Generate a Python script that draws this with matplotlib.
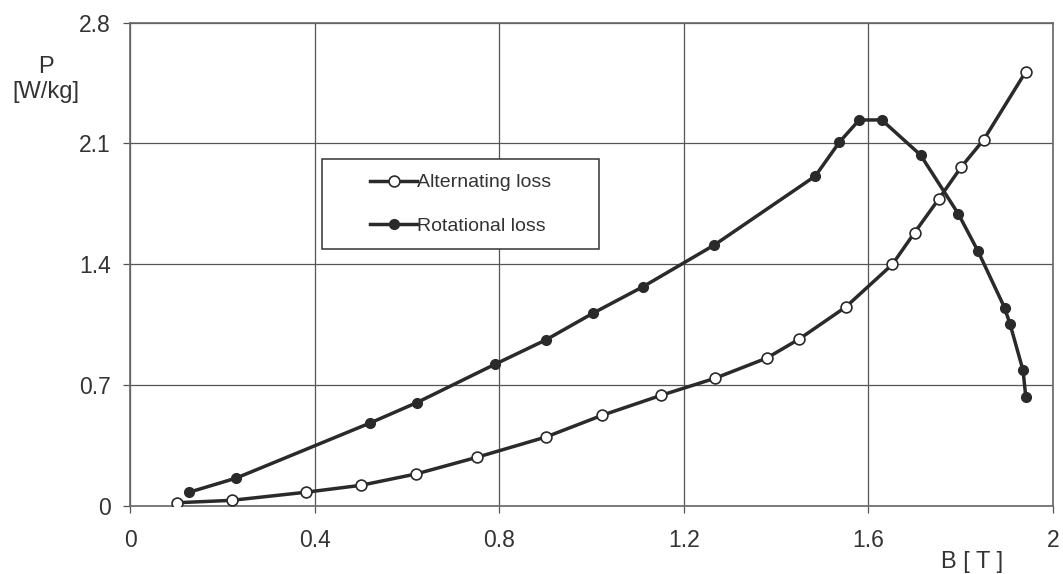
import matplotlib
matplotlib.use("Agg")
import matplotlib.pyplot as plt
from matplotlib.patches import Rectangle

plt.rcParams['font.family'] = ['Liberation Sans', 'DejaVu Sans']

# Flux density B [T] and loss P [W/kg]
b_alt = [0.101, 0.220, 0.381, 0.500, 0.620, 0.751, 0.901, 1.023, 1.151, 1.267,
         1.380, 1.450, 1.551, 1.652, 1.700, 1.752, 1.801, 1.850, 1.941]
p_alt = [0.017, 0.031, 0.078, 0.118, 0.184, 0.280, 0.398, 0.524, 0.640, 0.738,
         0.856, 0.966, 1.152, 1.399, 1.583, 1.776, 1.963, 2.122, 2.516]

b_rot = [0.128, 0.229, 0.519, 0.621, 0.791, 0.901, 1.004, 1.112, 1.266, 1.485,
         1.537, 1.580, 1.629, 1.713, 1.795, 1.837, 1.895, 1.907, 1.935, 1.941]
p_rot = [0.078, 0.159, 0.478, 0.597, 0.820, 0.961, 1.117, 1.270, 1.511, 1.911,
         2.107, 2.236, 2.236, 2.033, 1.691, 1.478, 1.148, 1.052, 0.785, 0.632]

x_ticks = [0, 0.4, 0.8, 1.2, 1.6, 2]
x_labels = ["0", "0.4", "0.8", "1.2", "1.6", "2"]
y_ticks = [0, 0.7, 1.4, 2.1, 2.8]
y_labels = ["0", "0.7", "1.4", "2.1", "2.8"]

line_col = "#2a2a2a"
grid_col = "#555555"
text_col = "#333333"

fig = plt.figure(figsize=(10.63, 5.74), dpi=100)
ax = fig.add_axes([0.1223, 0.119, 0.8683, 0.8415])

ax.plot(b_alt, p_alt, color=line_col, lw=2.5, marker="o", ms=7.8,
        mfc="white", mec=line_col, mew=1.2, label="Alternating loss", zorder=3)
ax.plot(b_rot, p_rot, color=line_col, lw=2.5, marker="o", ms=7.0,
        mfc=line_col, mec=line_col, label="Rotational loss", zorder=3)

ax.set_xlim(0, 2)
ax.set_ylim(0, 2.8)
ax.set_xticks(x_ticks)
ax.set_xticklabels(x_labels)
ax.set_yticks(y_ticks)
ax.set_yticklabels(y_labels)
ax.grid(True, color=grid_col, lw=0.9)
ax.set_axisbelow(True)
for s in ax.spines.values():
    s.set_color("#666666")
    s.set_linewidth(1.2)
ax.tick_params(axis="both", direction="out", length=5, width=0.9,
               color=grid_col, labelsize=16.5, labelcolor=text_col)
ax.tick_params(axis="x", pad=12)
ax.tick_params(axis="y", pad=9)
ax.tick_params(top=False, right=False)

# Legend with a rectangular frame
ax.add_patch(Rectangle((0.2083, 0.5315), 0.3002, 0.1857, transform=ax.transAxes,
                       fill=True, facecolor="white", edgecolor="#333333",
                       lw=1.1, zorder=4))
leg = ax.legend(loc="center", bbox_to_anchor=(0.3584, 0.6243), frameon=False,
                fontsize=14, handlelength=2.42, handletextpad=0.0,
                labelspacing=1.32, borderpad=0)
leg.set_zorder(5)
for t in leg.get_texts():
    t.set_color(text_col)

fig.text(46 / 1063, 1 - 67 / 574, "P", ha="center", va="center",
         fontsize=17, color=text_col)
fig.text(46 / 1063, 1 - 92 / 574, "[W/kg]", ha="center", va="center",
         fontsize=17, color=text_col)
fig.text(972 / 1063, 1 - 562 / 574, "B [ T ]", ha="center", va="center",
         fontsize=17, color=text_col)

fig.savefig("out.png", dpi=100, facecolor="white")
